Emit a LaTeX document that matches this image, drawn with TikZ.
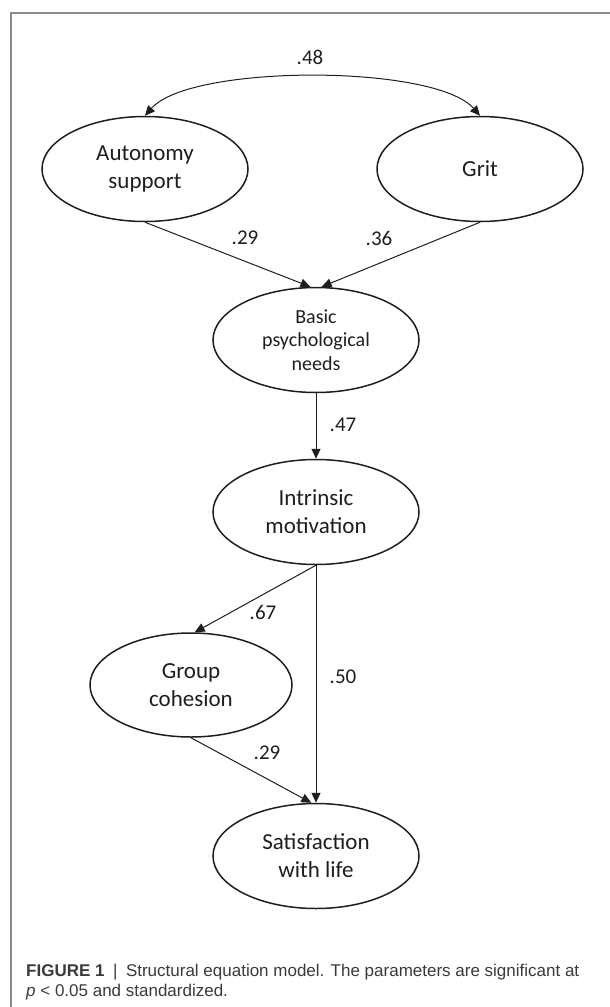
\documentclass[tikz,border=0pt]{standalone}
\usepackage{fontspec}
\setmainfont{Carlito}
\newfontfamily\capfont{Liberation Sans}
\usetikzlibrary{shapes.geometric,arrows.meta}

\definecolor{ink}{HTML}{1E1E1E}
\definecolor{frame}{HTML}{8C8C8C}
\definecolor{captxt}{HTML}{3A3A3A}

\tikzset{
  latent/.style={draw=ink, line width=1.5pt, ellipse, inner sep=0pt,
    minimum width=206pt, minimum height=105pt, align=center, text=ink,
    font=\fontsize{23}{28}\selectfont},
  path/.style={draw=ink, line width=1pt,
    -{Triangle[length=10pt,width=9pt]}},
  coef/.style={text=ink, inner sep=0pt, font=\fontsize{21}{24}\selectfont},
  captionline/.style={anchor=base west, inner sep=0pt, text=captxt,
    font=\capfont\fontsize{17}{20}\selectfont}
}

\begin{document}
\begin{tikzpicture}[x=1pt, y=-1pt]
  \useasboundingbox (0,0) rectangle (610,1007);

  % figure frame (open at right and bottom)
  \draw[frame, line width=1.4pt] (11,1007) -- (11,13) -- (610,13);

  % latent variables
  \node[latent] (auto) at (145,169) {Autonomy\\support};
  \node[latent] (grit) at (480,169) {Grit};
  \node[latent, font=\fontsize{20}{23.5}\selectfont] (bpn) at (316,340)
    {Basic\\psychological\\needs};
  \node[latent] (intr) at (316,512) {Intrinsic\\motivation};
  \node[latent, minimum width=202pt, minimum height=104pt] (coh) at (191,685)
    {Group\\cohesion};
  \node[latent] (sat) at (316,856) {Satisfaction\\with life};

  % covariance between exogenous variables
  \draw[draw=ink, line width=1pt, {Triangle[length=10pt,width=9pt]}-{Triangle[length=10pt,width=9pt]}]
    (auto.north) .. controls (190,64) and (435,64) .. (grit.north);

  % structural paths
  \draw[path] (auto.south) -- (bpn.96);
  \draw[path] (grit.south) -- (bpn.84);
  \draw[path] (bpn.south) -- (intr.north);
  \draw[path] (intr.south) -- (coh.86);
  \draw[path] (intr.south) -- (sat.north);
  \draw[path] (coh.south) -- (sat.95);

  % path coefficients
  \node[coef] (c48) at (310,57) {.48};
  \node[coef] (c29a) at (245,238) {.29};
  \node[coef] (c36) at (379,238) {.36};
  \node[coef] (c47) at (343,425) {.47};
  \node[coef] (c67) at (263,612) {.67};
  \node[coef] (c50) at (343,677) {.50};
  \node[coef] (c29b) at (267,753) {.29};

  % caption
  \node[captionline] (cap1) at (26,976)
    {\textbf{FIGURE 1}\enspace|\enspace Structural equation model. The parameters are significant at};
  \node[captionline] (cap2) at (26,996)
    {\textit{p} < 0.05 and standardized.};
\end{tikzpicture}
\end{document}
